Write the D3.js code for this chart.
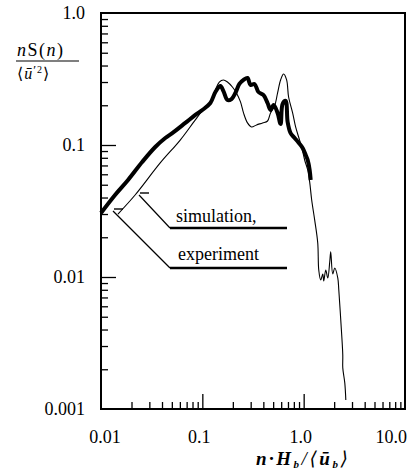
<!DOCTYPE html>
<html><head><meta charset="utf-8">
<script src="https://cdn.jsdelivr.net/npm/d3@7"></script>
<style>
html,body{margin:0;padding:0;background:#fff;}
svg text{font-family:"Liberation Serif","DejaVu Serif",serif;fill:#000;}
</style></head>
<body><svg id="c" width="413" height="470"></svg>
<script>
// ---- data ----
const expFreq  = [0.01,0.01376,0.01849,0.02547,0.0343,0.0431,0.0505,0.0679,0.0853,0.1,0.120,0.1346,0.1507,0.1615,0.177,0.194,0.212,0.232,0.255,0.279,0.299,0.327,0.358,0.402,0.440,0.471,0.505,0.553,0.592,0.620,0.664,0.695,0.743,0.815,0.892,0.977,1.047,1.096,1.146,1.173];
const expValue = [0.0305,0.0418,0.0543,0.0743,0.0966,0.113,0.123,0.147,0.169,0.184,0.208,0.252,0.280,0.256,0.219,0.223,0.248,0.290,0.311,0.322,0.285,0.290,0.252,0.239,0.208,0.184,0.201,0.175,0.144,0.205,0.216,0.149,0.123,0.113,0.104,0.0949,0.0840,0.0770,0.0647,0.0543];
const simFreq  = [0.0147,0.0217,0.0384,0.0605,0.0853,0.1,0.120,0.1346,0.147,0.1615,0.177,0.198,0.217,0.238,0.255,0.279,0.305,0.343,0.393,0.440,0.471,0.516,0.553,0.592,0.634,0.679,0.710,0.778,0.833,0.892,0.955,1.023,1.096,1.146,1.200,1.285,1.377,1.409,1.473,1.543,1.578,1.652,1.730,1.808,1.849,1.935,2.026,2.172,2.222,2.323,2.432,2.432,2.547,2.606];
const simValue = [0.030,0.0418,0.0731,0.109,0.155,0.181,0.205,0.261,0.300,0.311,0.300,0.275,0.248,0.212,0.175,0.147,0.137,0.142,0.147,0.152,0.175,0.197,0.248,0.311,0.345,0.311,0.231,0.175,0.137,0.115,0.0966,0.0770,0.0647,0.0525,0.0383,0.0270,0.0181,0.0113,0.00949,0.01054,0.00933,0.0113,0.00982,0.0130,0.0155,0.01054,0.0117,0.00982,0.00797,0.00472,0.00257,0.00205,0.00157,0.00117];
const xTickValues = [0.01,0.1,1,10];
const xTickLabels = ["0.01","0.1","1.0","10.0"];
const yTickValues = [0.001,0.01,0.1,1];
const yTickLabels = ["0.001","0.01","0.1","1.0"];
const legendLabels = ["simulation,","experiment"];

// ---- chart ----
const FONT = "Liberation Serif, DejaVu Serif, serif";
const svg = d3.select("#c");
const x = d3.scaleLog().domain([0.01,10]).range([101,405]);
const y = d3.scaleLog().domain([0.001,1]).range([409,13]);

function minors(lo,hi){const a=[];for(let d=lo;d<hi;d*=10){for(let k=2;k<=9;k++)a.push(d*k);}return a;}
function styleTicks(g){g.select(".domain").remove();g.selectAll("line").attr("stroke","#000").attr("stroke-width",1.3);}

// bottom axis ticks (inward)
svg.append("g").attr("transform","translate(0,409)")
  .call(d3.axisBottom(x).tickValues(minors(0.01,10)).tickSize(-7).tickFormat("")).call(styleTicks);
svg.append("g").attr("transform","translate(0,409)")
  .call(d3.axisBottom(x).tickValues([0.1,1]).tickSize(-15).tickFormat("")).call(styleTicks);
// left axis ticks (inward)
svg.append("g").attr("transform","translate(101,0)")
  .call(d3.axisLeft(y).tickValues(minors(0.001,1)).tickSize(-7).tickFormat("")).call(styleTicks);
svg.append("g").attr("transform","translate(101,0)")
  .call(d3.axisLeft(y).tickValues([0.01,0.1]).tickSize(-15).tickFormat("")).call(styleTicks);

// frame
svg.append("rect").attr("x",x(0.01)).attr("y",y(1)).attr("width",x(10)-x(0.01)).attr("height",y(0.001)-y(1))
  .attr("fill","none").attr("stroke","#000").attr("stroke-width",2);

// tick labels
xTickValues.forEach((v,i)=>{
  const last = i===xTickValues.length-1;
  svg.append("text").attr("font-family",FONT).attr("x",last?x(v)+2:x(v)+(i===0?4:-3)).attr("y",443)
    .attr("text-anchor",last?"end":"middle").attr("font-size",18).text(xTickLabels[i]);
});
yTickValues.forEach((v,i)=>{
  svg.append("text").attr("font-family",FONT).attr("x",85).attr("y",y(v)+6)
    .attr("text-anchor","end").attr("font-size",18).text(yTickLabels[i]);
});

// lines
const line = d3.line().x(d=>x(d[0])).y(d=>y(d[1])).curve(d3.curveCatmullRom.alpha(0.5));
svg.append("path").datum(simFreq.map((f,i)=>[f,simValue[i]]))
  .attr("d",line).attr("fill","none").attr("stroke","#000").attr("stroke-width",1.1);
svg.append("path").datum(expFreq.map((f,i)=>[f,expValue[i]]))
  .attr("d",line).attr("fill","none").attr("stroke","#000").attr("stroke-width",4).attr("stroke-linejoin","round");

// legend with leaders
const lg = svg.append("g");
const leaders = [
  {tx:176,ty:222,uy:228,ax:139,ay:195,sx:149},
  {tx:178,ty:260,uy:268,ax:113,ay:211,sx:123}
];
leaders.forEach((L,i)=>{
  lg.append("text").attr("font-family",FONT).attr("x",L.tx).attr("y",L.ty).attr("font-size",18).text(legendLabels[i]);
  lg.append("line").attr("x1",170).attr("x2",287).attr("y1",L.uy).attr("y2",L.uy).attr("stroke","#000").attr("stroke-width",2.4);
  lg.append("line").attr("x1",170).attr("y1",L.uy).attr("x2",L.ax).attr("y2",L.ay).attr("stroke","#000").attr("stroke-width",1.2);
  lg.append("line").attr("x1",L.ax+1).attr("x2",L.sx).attr("y1",L.ay-2).attr("y2",L.ay-2).attr("stroke","#000").attr("stroke-width",1.4);
});

// y label (fraction)
const yl = svg.append("g");
const num = yl.append("text").attr("font-family",FONT).attr("x",17).attr("y",56).attr("font-size",18)
  .attr("font-style","italic").attr("letter-spacing",1.5);
num.append("tspan").text("n");
num.append("tspan").attr("font-style","normal").text("S(");
num.append("tspan").text("n");
num.append("tspan").attr("font-style","normal").text(")");
yl.append("line").attr("x1",16).attr("x2",79).attr("y1",61).attr("y2",61).attr("stroke","#000").attr("stroke-width",1.2);
const den = yl.append("text").attr("font-family",FONT).attr("x",17).attr("y",79).attr("font-size",16).attr("letter-spacing",1);
den.append("tspan").text("\u27E8");
den.append("tspan").attr("font-style","italic").text("\u016B");
den.append("tspan").attr("font-size",13).attr("dy",-5).text("\u2032");
den.append("tspan").attr("font-size",10).attr("dy",-1).text("2");
den.append("tspan").attr("dy",6).text("\u27E9");

// x label
const xl = svg.append("text").attr("font-family",FONT).attr("x",256).attr("y",465).attr("font-size",19)
  .attr("font-style","italic").attr("font-weight","bold").attr("letter-spacing",2.5);
xl.append("tspan").text("n\u00B7H");
xl.append("tspan").attr("font-size",11).attr("dy",3).text("b");
xl.append("tspan").attr("dy",-3).attr("font-weight","normal").text("/\u27E8");
xl.append("tspan").text("\u016B");
xl.append("tspan").attr("font-size",11).attr("dy",3).text("b");
xl.append("tspan").attr("dy",-3).attr("font-weight","normal").text("\u27E9");
</script></body></html>
